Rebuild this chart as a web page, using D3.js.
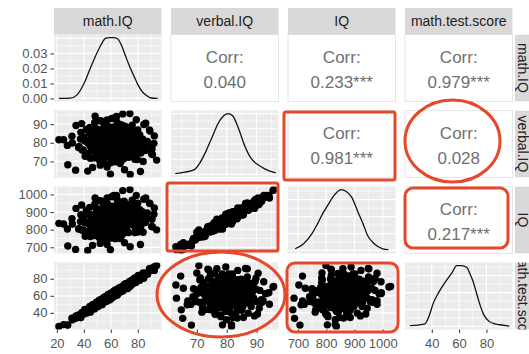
<!DOCTYPE html>
<html>
<head>
<meta charset="utf-8">
<script src="https://cdn.jsdelivr.net/npm/d3@7"></script>
<style>
  html, body { margin: 0; padding: 0; background: #fff; }
  svg { display: block; font-family: "Liberation Sans", Arial, sans-serif; }
</style>
</head>
<body>
<svg id="chart" width="529" height="354"></svg>
<script>
// Pairs plot of four test variables (ggpairs style)

const varNames = ['math.IQ', 'verbal.IQ', 'IQ', 'math.test.score'];

// one entry per student
const mathIQ = [21.5, 27.8, 31.2, 33.9, 36.1, 37.5, 38.4, 39.6, 40.7, 41.9, 42.6, 43.3, 44.1, 44.8, 45.2, 45.9, 46.5, 47.0, 47.6, 48.1,
  48.5, 49.0, 49.4, 49.8, 50.2, 50.6, 51.0, 51.4, 51.8, 52.2, 52.5, 52.9, 53.3, 53.6, 54.0, 54.3, 54.6, 54.9, 55.2, 55.5,
  55.8, 56.1, 56.4, 56.7, 57.0, 57.3, 57.5, 57.8, 58.1, 58.4, 58.6, 58.9, 59.2, 59.4, 59.7, 59.9, 60.2, 60.5, 60.7, 61.0,
  61.3, 61.5, 61.8, 62.1, 62.4, 62.6, 62.9, 63.2, 63.4, 63.7, 64.0, 64.3, 64.6, 64.9, 65.2, 65.6, 66.0, 66.3, 66.7, 67.1,
  67.4, 67.8, 68.2, 68.5, 68.9, 69.2, 69.6, 69.9, 70.3, 70.8, 71.2, 71.7, 72.1, 72.6, 73.0, 73.5, 73.9, 74.4, 74.8, 75.3,
  75.9, 76.4, 77.0, 77.5, 78.1, 78.6, 79.2, 79.7, 80.4, 81.2, 82.0, 82.9, 83.7, 84.5, 85.6, 87.1, 88.7, 90.3, 92.0, 94.0,
  25.0, 28.1, 31.5, 34.2, 36.4, 37.8, 38.7, 39.9, 41.0, 42.2, 42.9, 43.6, 44.4, 45.1, 45.5, 46.2, 46.8, 47.3, 47.9, 48.4,
  48.8, 49.3, 49.7, 50.1, 50.5, 50.9, 51.3, 51.7, 52.1, 52.5, 52.8, 53.2, 53.6, 53.9, 54.3, 54.6, 54.9, 55.2, 55.5, 55.8,
  56.1, 56.4, 56.7, 57.0, 57.3, 57.6, 57.8, 58.1, 58.4, 58.7, 58.9, 59.2, 59.5, 59.7, 60.0, 60.2, 60.5, 60.8, 61.0, 61.3,
  61.6, 61.8, 62.1, 62.4, 62.7, 62.9, 63.2, 63.5, 63.7, 64.0, 64.3, 64.6, 64.9, 65.2, 65.5, 65.9, 66.3, 66.6, 67.0, 67.4,
  67.7, 68.1, 68.5, 68.8, 69.2, 69.5, 69.9, 70.2, 70.6, 71.1, 71.5, 72.0, 72.4, 72.9, 73.3, 73.8, 74.2, 74.7, 75.1, 75.6,
  76.2, 76.7, 77.3, 77.8, 78.4, 78.9, 79.5, 80.0, 80.7, 81.5, 82.3, 83.2, 84.0, 84.8, 85.9, 87.4, 89.0, 90.6, 92.3, 90.9];

const verbalIQ = [81.6, 78.6, 83.5, 65.3, 77.5, 82.0, 90.3, 76.1, 80.9, 87.2, 74.3, 79.8, 85.1, 71.7, 78.8, 83.6, 66.8, 77.6, 82.1, 90.9,
  76.3, 81.0, 87.4, 74.5, 79.9, 85.4, 72.0, 78.9, 83.8, 68.0, 77.7, 82.3, 91.6, 76.5, 81.1, 87.7, 74.7, 80.0, 85.6, 72.3,
  79.0, 84.0, 68.7, 77.8, 82.4, 92.2, 76.6, 81.3, 88.0, 74.9, 80.1, 85.9, 72.6, 79.2, 84.1, 69.3, 77.9, 82.6, 93.0, 76.8,
  81.4, 88.4, 75.1, 80.2, 86.1, 72.9, 79.3, 84.3, 69.8, 78.0, 82.8, 94.1, 77.0, 81.5, 88.8, 75.3, 80.3, 86.2, 73.2, 79.4,
  84.5, 70.2, 78.2, 82.9, 95.5, 77.1, 71.4, 89.1, 75.5, 80.5, 86.5, 73.5, 79.5, 84.6, 84.9, 78.3, 83.1, 63.0, 77.3, 81.7,
  89.5, 75.7, 80.6, 86.7, 73.8, 79.6, 84.8, 71.0, 78.5, 83.3, 64.6, 77.4, 81.9, 89.8, 75.9, 80.7, 86.9, 74.0, 79.7, 70.7,
  81.6, 68.2, 79.9, 89.3, 78.1, 85.6, 76.1, 83.1, 72.8, 81.2, 64.8, 79.6, 88.2, 77.8, 85.0, 75.5, 82.6, 71.9, 80.8, 94.3,
  79.2, 87.4, 77.5, 84.5, 74.9, 82.2, 70.9, 80.4, 91.8, 78.8, 86.7, 77.0, 84.0, 74.2, 81.8, 69.5, 80.1, 90.0, 78.4, 86.1,
  76.5, 83.5, 73.4, 81.5, 67.0, 79.8, 89.0, 78.0, 85.3, 75.9, 83.0, 72.5, 81.1, 63.2, 79.5, 87.9, 77.7, 84.8, 75.3, 82.5,
  71.6, 80.7, 93.2, 79.1, 87.1, 77.3, 84.3, 74.7, 82.1, 70.4, 80.3, 91.1, 78.7, 86.4, 76.8, 83.8, 74.0, 81.7, 68.9, 80.0,
  89.7, 78.2, 85.8, 76.3, 83.3, 73.1, 81.3, 65.5, 79.7, 88.6, 77.9, 85.1, 75.7, 82.8, 72.2, 80.9, 95.7, 79.4, 87.6, 77.6,
  84.7, 75.1, 82.3, 71.2, 80.5, 92.4, 79.0, 86.9, 77.2, 84.2, 74.5, 81.9, 70.0, 80.2, 90.5, 78.5, 86.3, 76.7, 83.7, 73.7];

const IQ = [836, 804, 862, 688, 804, 846, 940, 799, 840, 910, 787, 834, 883, 761, 831, 872, 711, 824, 862, 945,
  811, 857, 913, 791, 850, 898, 759, 839, 888, 722, 826, 877, 962, 807, 864, 929, 792, 851, 912, 772,
  834, 895, 741, 825, 877, 980, 817, 859, 937, 805, 850, 914, 786, 844, 889, 752, 837, 877, 987, 830,
  868, 934, 812, 862, 913, 788, 857, 899, 749, 843, 890, 995, 831, 881, 946, 807, 868, 926, 789, 857,
  913, 763, 838, 897, 1022, 830, 780, 962, 818, 864, 935, 805, 857, 915, 923, 850, 893, 703, 846, 882,
  967, 834, 876, 933, 815, 873, 917, 786, 866, 907, 716, 856, 901, 973, 841, 895, 951, 818, 888, 799,
  832, 707, 832, 921, 806, 885, 797, 872, 763, 843, 682, 837, 927, 817, 885, 792, 870, 767, 850, 980,
  832, 920, 826, 889, 789, 864, 757, 857, 964, 830, 911, 820, 895, 790, 861, 741, 853, 956, 834, 906,
  812, 888, 792, 866, 716, 847, 945, 839, 905, 807, 880, 781, 872, 686, 844, 930, 835, 910, 808, 875,
  769, 866, 995, 847, 923, 827, 903, 812, 879, 757, 858, 973, 853, 923, 823, 895, 803, 885, 750, 856,
  956, 847, 928, 826, 891, 792, 880, 726, 862, 946, 842, 920, 830, 895, 784, 874, 1028, 870, 945, 841,
  914, 825, 901, 784, 872, 994, 867, 950, 847, 913, 818, 899, 785, 881, 980, 863, 949, 859, 923, 817];

const mathScore = [24.0, 25.9, 33.8, 33.5, 37.6, 34.4, 38.6, 38.4, 44.1, 39.6, 43.7, 42.6, 46.1, 40.8, 45.7, 44.3, 49.4, 46.9, 49.4, 45.4,
  49.3, 47.1, 52.0, 49.4, 51.7, 47.5, 51.2, 50.2, 55.2, 49.9, 53.6, 52.2, 55.3, 49.6, 54.5, 52.7, 57.5, 54.8, 57.0, 52.8,
  56.6, 54.2, 59.0, 56.3, 58.5, 54.2, 57.7, 56.6, 61.5, 56.1, 59.7, 58.2, 61.2, 55.4, 60.2, 58.3, 63.1, 60.4, 62.5, 58.3,
  62.1, 59.6, 64.4, 61.7, 63.9, 59.5, 63.1, 62.0, 66.8, 61.4, 65.1, 63.6, 66.6, 60.9, 65.7, 64.0, 68.9, 66.2, 68.5, 64.4,
  68.2, 65.9, 70.8, 68.1, 70.4, 66.1, 69.8, 68.7, 73.7, 68.5, 72.3, 71.0, 74.1, 68.6, 73.5, 71.9, 76.8, 72.7, 76.6, 72.6,
  76.7, 74.5, 79.6, 77.1, 79.6, 75.5, 79.4, 78.5, 83.8, 78.9, 83.1, 82.2, 85.7, 80.5, 86.1, 85.5, 91.6, 90.2, 93.8, 95.5,
  26.2, 25.6, 31.8, 36.4, 35.5, 34.5, 40.4, 39.7, 43.8, 40.8, 43.5, 41.7, 47.4, 46.3, 43.0, 46.5, 49.0, 46.4, 44.6, 50.1,
  48.6, 52.1, 48.3, 50.7, 48.6, 53.9, 52.5, 49.2, 52.4, 54.7, 51.9, 49.9, 55.3, 53.7, 57.1, 53.2, 55.5, 53.3, 58.5, 57.0,
  53.6, 56.7, 58.9, 56.1, 54.0, 59.3, 57.6, 60.9, 57.0, 59.3, 57.0, 62.2, 60.7, 57.2, 60.3, 62.4, 59.6, 57.5, 62.7, 61.1,
  64.4, 60.4, 62.7, 60.5, 65.7, 64.1, 60.7, 63.8, 65.9, 63.1, 61.0, 66.3, 64.7, 68.0, 64.1, 66.5, 64.4, 69.6, 68.2, 64.9,
  68.0, 70.3, 67.6, 65.5, 70.9, 69.3, 72.7, 68.8, 71.2, 69.2, 74.5, 73.2, 69.9, 73.2, 75.5, 72.9, 70.9, 76.4, 74.9, 78.4,
  74.8, 77.3, 75.4, 80.8, 79.6, 76.4, 79.8, 82.2, 79.8, 78.2, 84.0, 83.0, 86.8, 83.4, 86.5, 85.5, 92.0, 91.8, 89.8, 91.2];

// density curves
const mathDensX = [21.5, 30, 35, 38, 41, 44, 47, 50, 53, 56, 59, 62, 65, 68, 71, 74, 77, 80, 83, 86, 90, 94.8];
const mathDensY = [0, 0.0002, 0.0024, 0.0063, 0.0116, 0.0183, 0.0248, 0.0308, 0.0361, 0.0400, 0.0405, 0.0406, 0.0398, 0.0353, 0.0282, 0.0213, 0.0153, 0.0094, 0.0049, 0.0023, 0.0003, 0];
const verbalDensX = [62.8, 66, 69, 71, 73, 75, 77, 79, 80.5, 82, 84, 86, 88, 90, 92, 94, 96.4];
const verbalDensY = [0.001, 0.003, 0.006, 0.015, 0.030, 0.048, 0.066, 0.077, 0.080, 0.077, 0.060, 0.038, 0.022, 0.014, 0.009, 0.005, 0.002];
const iqDensX = [690, 720, 746, 770, 790, 803, 830, 853, 870, 890, 913, 930, 946, 970, 1000, 1020];
const iqDensY = [0.0002, 0.0008, 0.0018, 0.0032, 0.0045, 0.0052, 0.0066, 0.0072, 0.0070, 0.0063, 0.0045, 0.0032, 0.0018, 0.0008, 0.0002, 0.0001];
const scoreDensX = [24, 30, 35, 38, 41, 45, 51, 55, 58.2, 62, 65.5, 68, 70, 73, 75, 78, 82, 86, 90, 96.8];
const scoreDensY = [0.0005, 0.0008, 0.0015, 0.0060, 0.0135, 0.0200, 0.0275, 0.0320, 0.0360, 0.0360, 0.0350, 0.0310, 0.0272, 0.0190, 0.0135, 0.0070, 0.0030, 0.0015, 0.0010, 0.0002];

// correlation text of the upper panels
const corrRows = [0, 0, 0, 1, 1, 2];
const corrCols = [1, 2, 3, 2, 3, 3];
const corrText = ['0.040', '0.233***', '0.979***', '0.981***', '0.028', '0.217***'];

// axis breaks
const axisBreaks = [[20, 40, 60, 80], [70, 80, 90], [700, 800, 900, 1000], [40, 60, 80]];
const densBreaks = [0, 0.01, 0.02, 0.03];

// layout
const W = 529, H = 354;
const left0 = 54, top0 = 34.5, pw = 107.5, ph = 67, stepX = 117, stepY = 76;
const stripH = 26.5, rightStripX = 515;
const n = varNames.length;

const columns = [mathIQ, verbalIQ, IQ, mathScore];
const densities = [
  d3.zip(mathDensX, mathDensY), d3.zip(verbalDensX, verbalDensY),
  d3.zip(iqDensX, iqDensY), d3.zip(scoreDensX, scoreDensY)
];

const expand = (ext, m = 0.05) => { const d = ext[1] - ext[0]; return [ext[0] - d * m, ext[1] + d * m]; };
const px = c => left0 + c * stepX;
const py = r => top0 + r * stepY;

const xScale = columns.map((col, c) => d3.scaleLinear().domain(expand(d3.extent(col))).range([px(c), px(c) + pw]));
const yScale = columns.map((col, r) => d3.scaleLinear().domain(expand(d3.extent(col))).range([py(r) + ph, py(r)]));
const densScale = densities.map((d, i) => d3.scaleLinear()
  .domain(expand([0, d3.max(d, p => p[1])])).range([py(i) + ph, py(i)]));

function minorBreaks(br, dom) {
  const step = br[1] - br[0], out = [];
  for (let v = br[0] - step / 2; v <= dom[1]; v += step) if (v >= dom[0]) out.push(v);
  return out;
}
function majorBreaks(br, dom) {
  const step = br[1] - br[0], out = [];
  for (let v = br[0] - step * 3; v <= dom[1] + 1e-9; v += step) if (v >= dom[0] - 1e-9) out.push(+v.toFixed(6));
  return out;
}

const svg = d3.select('#chart');
svg.append('rect').attr('width', W).attr('height', H).attr('fill', '#fff');

const defs = svg.append('defs');

// panels
for (let r = 0; r < n; r++) {
  for (let c = 0; c < n; c++) {
    const g = svg.append('g');
    const x0 = px(c), y0 = py(r);
    if (c > r) {
      // upper: correlation text goes here
      g.append('rect').attr('x', x0).attr('y', y0).attr('width', pw).attr('height', ph)
        .attr('fill', '#fff').attr('stroke', '#e6e6e6').attr('stroke-width', 1);
      continue;
    }
    g.append('rect').attr('x', x0).attr('y', y0).attr('width', pw).attr('height', ph).attr('fill', '#ebebeb');

    const xs = xScale[c];
    const ys = c === r ? densScale[r] : yScale[r];
    const xb = axisBreaks[c];
    const yb = c === r ? (r === 0 ? densBreaks : ys.ticks(4)) : axisBreaks[r];

    const clipId = `clip-${r}-${c}`;
    defs.append('clipPath').attr('id', clipId).append('rect')
      .attr('x', x0).attr('y', y0).attr('width', pw).attr('height', ph);
    const inner = g.append('g').attr('clip-path', `url(#${clipId})`);

    // minor grid
    minorBreaks(xb, xs.domain()).forEach(v => inner.append('line')
      .attr('x1', xs(v)).attr('x2', xs(v)).attr('y1', y0).attr('y2', y0 + ph)
      .attr('stroke', '#fff').attr('stroke-width', 0.6));
    minorBreaks(yb, ys.domain()).forEach(v => inner.append('line')
      .attr('y1', ys(v)).attr('y2', ys(v)).attr('x1', x0).attr('x2', x0 + pw)
      .attr('stroke', '#fff').attr('stroke-width', 0.6));
    // major grid
    majorBreaks(xb, xs.domain()).forEach(v => inner.append('line')
      .attr('x1', xs(v)).attr('x2', xs(v)).attr('y1', y0).attr('y2', y0 + ph)
      .attr('stroke', '#fff').attr('stroke-width', 1.2));
    majorBreaks(yb, ys.domain()).forEach(v => inner.append('line')
      .attr('y1', ys(v)).attr('y2', ys(v)).attr('x1', x0).attr('x2', x0 + pw)
      .attr('stroke', '#fff').attr('stroke-width', 1.2));

    if (c === r) {
      const line = d3.line().x(d => xs(d[0])).y(d => ys(d[1])).curve(d3.curveMonotoneX);
      inner.append('path').attr('d', line(densities[r]))
        .attr('fill', 'none').attr('stroke', '#111').attr('stroke-width', 1.3);
    } else {
      inner.selectAll('circle').data(d3.range(columns[c].length)).join('circle')
        .attr('cx', i => xs(columns[c][i]))
        .attr('cy', i => ys(columns[r][i]))
        .attr('r', 3.7)
        .attr('fill', '#000');
    }
  }
}

// correlation labels
corrText.forEach((t, k) => {
  const cx = px(corrCols[k]) + pw / 2, y0 = py(corrRows[k]);
  const g = svg.append('g').attr('fill', '#6f6f6f').attr('font-size', 17).attr('text-anchor', 'middle');
  g.append('text').attr('x', cx).attr('y', y0 + 23).attr('dominant-baseline', 'central').text('Corr:');
  g.append('text').attr('x', cx).attr('y', y0 + 48).attr('dominant-baseline', 'central').text(t);
});

// top strips
varNames.forEach((name, c) => {
  svg.append('rect').attr('x', px(c)).attr('y', top0 - stripH).attr('width', pw).attr('height', stripH).attr('fill', '#d9d9d9');
  svg.append('text').attr('x', px(c) + pw / 2).attr('y', top0 - stripH / 2)
    .attr('text-anchor', 'middle').attr('dominant-baseline', 'central')
    .attr('font-size', 14).attr('fill', '#222').text(name);
});

// right strips (the window cuts them, as in the original)
varNames.forEach((name, r) => {
  const id = `strip-clip-${r}`;
  defs.append('clipPath').attr('id', id).append('rect')
    .attr('x', rightStripX).attr('y', py(r)).attr('width', stripH).attr('height', ph);
  const g = svg.append('g').attr('clip-path', `url(#${id})`);
  g.append('rect').attr('x', rightStripX).attr('y', py(r)).attr('width', stripH).attr('height', ph).attr('fill', '#d9d9d9');
  g.append('text')
    .attr('transform', `translate(${rightStripX + 8},${py(r) + ph / 2}) rotate(90)`)
    .attr('text-anchor', 'middle').attr('dominant-baseline', 'central')
    .attr('font-size', 14).attr('fill', '#222').text(name);
});

// axes
function styleAxis(sel) {
  sel.select('.domain').remove();
  sel.selectAll('.tick line').attr('stroke', '#333');
  sel.selectAll('.tick text').attr('fill', '#555').attr('font-size', 13)
    .attr('font-family', '"Liberation Sans", Arial, sans-serif');
}
for (let r = 0; r < n; r++) {
  const scale = r === 0 ? densScale[0] : yScale[r];
  const ax = d3.axisLeft(scale).tickValues(r === 0 ? densBreaks : axisBreaks[r])
    .tickSize(3.5).tickPadding(3).tickFormat(r === 0 ? d3.format('.2f') : d3.format('d'));
  svg.append('g').attr('transform', `translate(${left0},0)`).call(ax).call(styleAxis);
}
for (let c = 0; c < n; c++) {
  const ax = d3.axisBottom(xScale[c]).tickValues(axisBreaks[c]).tickSize(3.5).tickPadding(6).tickFormat(d3.format('d'));
  svg.append('g').attr('transform', `translate(0,${py(n - 1) + ph})`).call(ax).call(styleAxis);
}

// red highlight marks drawn over the matrix: [row, col, shape, dx0, dy0, dx1, dy1, corner]
const highlights = [
  [1, 2, 'rect', -4, 1.5, -0.5, 2.5, 2],
  [1, 3, 'ellipse', 0, -10.5, -12.5, 4.5, 0],
  [2, 3, 'rect', 0, 1.5, -4.5, -5.5, 8],
  [2, 1, 'rect', -4, -3.5, -0.5, -2.5, 2],
  [3, 1, 'ellipse', -14, -10.5, 6.5, 7.5, 0],
  [3, 2, 'rect', -1, 0.5, 2.5, 2.5, 8]
];
const hl = svg.append('g').attr('fill', 'none').attr('stroke', '#e5482b').attr('stroke-width', 3);
highlights.forEach(([r, c, shape, a, b, e, f, rad]) => {
  const x0 = px(c) + a, y0 = py(r) + b, x1 = px(c) + pw + e, y1 = py(r) + ph + f;
  if (shape === 'rect') {
    hl.append('rect').attr('x', x0).attr('y', y0).attr('width', x1 - x0).attr('height', y1 - y0).attr('rx', rad);
  } else {
    hl.append('ellipse').attr('cx', (x0 + x1) / 2).attr('cy', (y0 + y1) / 2).attr('rx', (x1 - x0) / 2).attr('ry', (y1 - y0) / 2);
  }
});
</script>
</body>
</html>
